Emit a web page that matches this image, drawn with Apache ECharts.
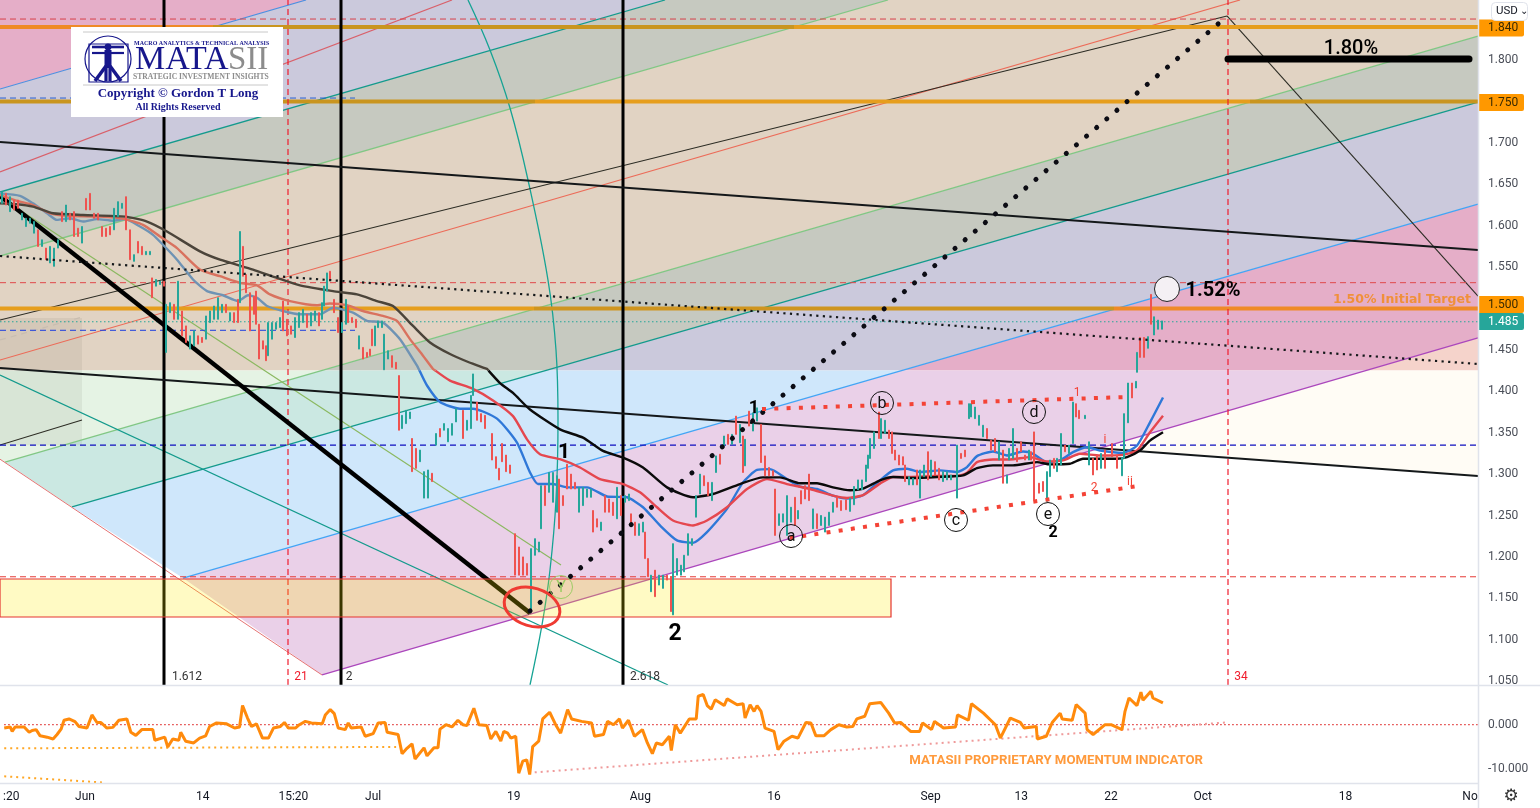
<!DOCTYPE html>
<html><head><meta charset="utf-8">
<style>html,body{margin:0;padding:0;background:#fff}#c{width:1540px;height:808px}</style>
<script src="https://cdn.jsdelivr.net/npm/echarts@6/dist/echarts.min.js"></script>
</head><body><div id="c"></div>
<script>
// axis scales: time slots on x, price on y
const slotMax=1478, priceMin=1.0453, priceMax=1.8726, momMin=-13.1, momMax=8.7, splitPrice=1.425;
const priceTicks=[1.05,1.1,1.15,1.2,1.25,1.3,1.35,1.4,1.45,1.5,1.55,1.6,1.65,1.7,1.75,1.8];
const momTicks=[0,-10];
const timeTickSlots=[7,81,199,290,370,511,638,772,929,1020,1110,1202,1345,1470];
const timeTickLabels=[':20','Jun','14','15:20','Jul','19','Aug','16','Sep','13','22','Oct','18','No'];

// price bars: [slot, low, high, up(1)/down(0)]
const barsJun=[[2,1.627,1.641,1],[6,1.625,1.639,0],[10,1.617,1.635,1],[14,1.619,1.631,0],[18,1.621,1.631,0],[22,1.607,1.615,1],[26,1.599,1.609,1],[30,1.603,1.609,1],[34,1.591,1.605,1],[38,1.575,1.595,0],[42,1.575,1.583,1],[46,1.559,1.573,0],[50,1.555,1.575,1],[54,1.551,1.573,1],[58,1.573,1.583,1],[62,1.605,1.617,0],[66,1.605,1.625,1],[70,1.607,1.615,0],[74,1.587,1.617,0],[78,1.587,1.597,0],[82,1.579,1.599,1],[86,1.619,1.633,0],[90,1.619,1.639,0],[94,1.609,1.615,0],[98,1.607,1.615,0],[102,1.587,1.599,0],[106,1.587,1.597,0],[110,1.589,1.599,0],[114,1.595,1.621,1],[118,1.611,1.629,1],[122,1.621,1.627,1],[126,1.595,1.635,0],[130,1.559,1.595,0],[134,1.557,1.565,1],[138,1.567,1.581,0],[142,1.565,1.575,0],[146,1.565,1.569,1],[150,1.565,1.569,1],[152,1.513,1.537,0],[156,1.527,1.535,1],[160,1.529,1.533,1],[164,1.527,1.533,0],[166,1.447,1.505,1],[170,1.495,1.507,1],[174,1.487,1.505,0],[178,1.487,1.533,1],[182,1.467,1.497,0],[186,1.459,1.479,0],[190,1.451,1.467,1],[194,1.455,1.473,1],[198,1.457,1.467,0],[202,1.459,1.465,0],[206,1.463,1.491,1],[210,1.483,1.497,1],[214,1.487,1.503,1],[218,1.487,1.513,1],[222,1.495,1.505,1],[226,1.495,1.505,0],[230,1.485,1.495,1],[234,1.483,1.495,0],[238,1.483,1.511,0],[240,1.507,1.593,1],[243,1.539,1.575,0],[246,1.519,1.541,0],[250,1.473,1.519,0],[254,1.493,1.515,0],[256,1.481,1.521,0],[259,1.439,1.481,0],[263,1.451,1.461,0],[266,1.437,1.455,0],[268,1.443,1.483,1],[272,1.463,1.483,1],[276,1.475,1.483,1],[280,1.477,1.489,1],[283,1.473,1.509,0],[287,1.467,1.487,0],[291,1.469,1.479,0],[295,1.465,1.489,1],[299,1.477,1.495,1],[303,1.483,1.499,1],[307,1.477,1.493,0],[311,1.479,1.495,1],[315,1.485,1.497,1],[319,1.479,1.495,0],[322,1.487,1.507,1],[324,1.503,1.527,1],[327,1.521,1.543,1],[330,1.535,1.545,0],[334,1.495,1.511,0],[338,1.471,1.489,0],[342,1.471,1.483,1],[346,1.481,1.511,1],[348,1.483,1.503,0],[352,1.483,1.489,0],[356,1.477,1.487,0]];
const barsJul=[[359,1.451,1.467,1],[363,1.439,1.453,0],[367,1.441,1.447,0],[370,1.443,1.451,0],[372,1.455,1.475,0],[375,1.455,1.479,1],[378,1.477,1.485,1],[382,1.477,1.485,1],[384,1.426,1.469,1],[388,1.439,1.449,1],[392,1.429,1.443,0],[396,1.427,1.435,0],[399,1.353,1.419,0],[402,1.355,1.371,1],[406,1.361,1.377,1],[410,1.367,1.375,1],[412,1.303,1.343,0],[416,1.307,1.331,0],[420,1.315,1.329,1],[424,1.271,1.303,1],[428,1.271,1.305,1],[432,1.291,1.301,0],[436,1.335,1.349,1],[440,1.345,1.355,0],[444,1.353,1.361,1],[448,1.339,1.355,1],[452,1.347,1.361,1],[456,1.363,1.379,1],[463,1.343,1.377,0],[467,1.353,1.365,1],[471,1.355,1.395,1],[473,1.395,1.421,1],[477,1.365,1.387,0],[481,1.363,1.373,0],[485,1.355,1.371,0],[492,1.317,1.349,0],[496,1.307,1.321,0],[499,1.293,1.307,0],[502,1.315,1.337,0],[506,1.303,1.323,0],[510,1.301,1.311,0],[515,1.178,1.228,0],[519,1.178,1.212,0],[523,1.178,1.2,0],[527,1.178,1.192,0],[531,1.134,1.21,1],[535,1.202,1.222,1],[539,1.206,1.218,1],[541,1.234,1.286,1],[545,1.262,1.286,0],[549,1.278,1.302,1],[553,1.266,1.302,1],[557,1.254,1.298,1],[559,1.234,1.294,0],[563,1.262,1.274,0],[567,1.282,1.312,0],[571,1.282,1.3,0],[575,1.282,1.29,0],[579,1.254,1.284,1],[583,1.262,1.284,1],[587,1.272,1.282,1],[591,1.272,1.282,1],[593,1.23,1.256,0],[597,1.236,1.246,0],[601,1.232,1.242,1],[605,1.254,1.274,0],[609,1.254,1.27,0],[613,1.25,1.266,0],[617,1.246,1.284,1],[621,1.25,1.274,0],[625,1.266,1.274,1],[629,1.268,1.276,1]];
const barsAug=[[631,1.238,1.252,0],[635,1.226,1.242,0],[639,1.226,1.24,1],[643,1.23,1.242,1],[645,1.198,1.23,0],[648,1.176,1.198,0],[651,1.158,1.178,1],[655,1.152,1.184,0],[659,1.166,1.178,1],[663,1.162,1.178,1],[667,1.172,1.178,0],[671,1.134,1.176,0],[673,1.13,1.216,1],[677,1.178,1.198,1],[681,1.178,1.19,1],[684,1.182,1.202,1],[688,1.202,1.228,1],[692,1.214,1.222,1],[696,1.248,1.274,1],[700,1.276,1.3,1],[704,1.286,1.298,0],[708,1.274,1.29,0],[712,1.268,1.29,1],[716,1.302,1.322,1],[720,1.312,1.324,0],[724,1.334,1.346,1],[728,1.336,1.348,0],[732,1.336,1.348,1],[736,1.348,1.37,0],[740,1.338,1.36,1],[743,1.302,1.346,0],[745,1.31,1.342,1],[749,1.358,1.376,0],[753,1.352,1.374,1],[757,1.364,1.38,1],[761,1.314,1.36,0],[765,1.298,1.322,0],[769,1.298,1.308,0],[773,1.298,1.304,0],[775,1.226,1.282,0],[779,1.238,1.252,1],[783,1.242,1.252,1],[787,1.226,1.274,1],[791,1.242,1.26,1],[795,1.238,1.272,0],[798,1.246,1.256,1],[801,1.264,1.28,0],[805,1.27,1.286,0],[809,1.268,1.3,0],[813,1.234,1.258,1],[817,1.234,1.252,0],[821,1.238,1.25,1],[825,1.23,1.248,1],[829,1.238,1.254,1],[833,1.254,1.266,1],[837,1.26,1.272,0],[841,1.256,1.268,0],[846,1.257,1.269,0],[850,1.255,1.271,1],[854,1.263,1.285,1],[858,1.281,1.293,1],[862,1.281,1.293,1],[866,1.291,1.311,1],[868,1.307,1.323,1],[870,1.319,1.343,1],[874,1.331,1.351,1],[879,1.343,1.375,0],[881,1.343,1.367,1],[885,1.349,1.365,1],[889,1.343,1.353,0],[892,1.325,1.351,0],[895,1.317,1.329,0],[899,1.311,1.323,0],[903,1.311,1.321,0],[905,1.291,1.311,0],[909,1.287,1.297,1],[913,1.287,1.295,1],[917,1.287,1.305,0],[920,1.271,1.305,1],[924,1.297,1.311,1],[928,1.293,1.327,0]];
const barsSep=[[931,1.297,1.317,1],[935,1.299,1.315,0],[939,1.293,1.307,0],[943,1.291,1.303,1],[947,1.293,1.303,1],[951,1.293,1.299,1],[957,1.271,1.335,1],[961,1.319,1.325,0],[965,1.321,1.329,0],[969,1.367,1.385,1],[971,1.369,1.385,1],[975,1.367,1.381,1],[979,1.359,1.371,1],[983,1.345,1.359,1],[987,1.343,1.355,0],[991,1.329,1.341,0],[995,1.327,1.343,0],[999,1.317,1.339,1],[1003,1.289,1.329,0],[1007,1.289,1.299,1],[1009,1.317,1.331,1],[1013,1.319,1.355,1],[1017,1.315,1.331,0],[1021,1.327,1.339,0],[1025,1.317,1.323,0],[1029,1.317,1.329,1],[1031,1.317,1.327,0],[1034,1.269,1.351,0],[1039,1.277,1.289,0],[1043,1.279,1.291,0],[1047,1.267,1.303,1],[1050,1.297,1.317,1],[1054,1.307,1.319,0],[1057,1.303,1.319,1],[1061,1.311,1.349,1],[1065,1.327,1.335,0],[1069,1.325,1.335,1],[1073,1.337,1.387,1],[1076,1.369,1.385,0],[1079,1.367,1.377,0],[1085,1.367,1.371,1],[1089,1.311,1.339,1],[1093,1.299,1.319,0],[1097,1.305,1.323,0],[1101,1.307,1.325,1],[1105,1.307,1.329,0],[1112,1.321,1.337,0],[1117,1.307,1.323,0],[1122,1.298,1.32,1],[1124,1.319,1.373,1],[1128,1.362,1.41,1],[1132,1.392,1.41,0],[1136,1.404,1.412,1],[1137,1.423,1.447,1],[1140,1.441,1.465,0],[1144,1.441,1.465,0],[1148,1.452,1.466,1],[1151,1.481,1.517,0],[1154,1.468,1.49,1],[1158,1.475,1.486,1],[1162,1.475,1.485,1]];

// moving averages: [slot, price]
const maFast=[[0,1.639],[20,1.636],[33,1.627],[47,1.615],[57,1.607],[70,1.609],[83,1.605],[97,1.608],[113,1.606],[125,1.608],[140,1.599],[153,1.589],[163,1.577],[177,1.559],[193,1.535],[207,1.521],[223,1.516],[238,1.509],[248,1.516],[257,1.513],[267,1.503],[283,1.497],[300,1.493],[320,1.493],[333,1.501],[353,1.495],[367,1.485],[383,1.483],[400,1.463],[417,1.431],[427,1.407],[440,1.387],[460,1.379],[473,1.379],[497,1.367],[517,1.338],[530,1.302],[538,1.288],[553,1.288],[567,1.284],[587,1.284],[607,1.273],[627,1.272],[643,1.26],[660,1.238],[677,1.22],[693,1.217],[707,1.23],[727,1.258],[743,1.29],[757,1.305],[770,1.306],[787,1.294],[800,1.285],[817,1.282],[833,1.274],[847,1.2705],[863,1.2745],[880,1.2925],[893,1.3045],[907,1.3065],[920,1.3025],[940,1.3045],[957,1.3025],[967,1.3085],[977,1.3217],[993,1.3273],[1007,1.3225],[1023,1.3273],[1033,1.3245],[1047,1.3145],[1060,1.3165],[1073,1.3265],[1087,1.3325],[1100,1.3285],[1123,1.3257],[1137,1.3345],[1150,1.3625],[1163,1.3925]];
const maMid=[[0,1.637],[17,1.63],[33,1.625],[50,1.615],[67,1.612],[100,1.611],[125,1.608],[143,1.601],[160,1.587],[177,1.573],[200,1.547],[220,1.539],[240,1.531],[257,1.528],[270,1.517],[290,1.509],[317,1.504],[330,1.506],[347,1.504],[363,1.497],[383,1.491],[397,1.485],[410,1.463],[423,1.443],[433,1.427],[450,1.413],[473,1.403],[493,1.389],[513,1.37],[527,1.342],[540,1.324],[560,1.318],[580,1.308],[600,1.294],[623,1.288],[640,1.278],[657,1.26],[673,1.244],[693,1.238],[707,1.244],[727,1.26],[747,1.282],[767,1.294],[787,1.288],[810,1.282],[833,1.274],[847,1.2713],[863,1.2745],[880,1.2885],[893,1.2965],[910,1.2965],[937,1.2977],[957,1.2977],[967,1.3017],[977,1.3145],[993,1.3177],[1010,1.3177],[1030,1.3205],[1047,1.3153],[1063,1.3165],[1080,1.3245],[1100,1.3225],[1123,1.3233],[1137,1.3285],[1150,1.3505],[1163,1.3705]];
const maSlow=[[0,1.627],[17,1.626],[33,1.623],[53,1.615],[83,1.613],[125,1.611],[147,1.605],[167,1.593],[200,1.569],[220,1.559],[253,1.547],[277,1.537],[300,1.528],[333,1.521],[357,1.517],[377,1.509],[393,1.503],[413,1.479],[430,1.459],[450,1.445],[467,1.436],[487,1.427],[500,1.41],[513,1.398],[530,1.378],[560,1.354],[583,1.344],[603,1.328],[623,1.32],[643,1.308],[667,1.284],[693,1.272],[713,1.276],[740,1.288],[763,1.296],[780,1.296],[800,1.289],[817,1.289],[833,1.284],[850,1.2805],[863,1.2825],[880,1.2925],[893,1.2965],[913,1.2953],[937,1.2965],[963,1.2985],[977,1.3073],[993,1.3105],[1013,1.3105],[1037,1.3145],[1050,1.3117],[1070,1.3125],[1083,1.3185],[1117,1.3185],[1127,1.3205],[1140,1.3285],[1150,1.3405],[1163,1.3505]];

// momentum indicator: [slot, value]
const momentum=[[0,-0.75],[6,-0.5],[8,-1.5],[11,-0.5],[20,-0.5],[25,-1.7],[28,-1.3],[32,-1.1],[36,-2.5],[43,-2.8],[49,-3.2],[53,-2.2],[57,-1],[60,1],[65,1.3],[71,0.7],[75,-0.4],[83,-0.75],[88,2.2],[93,0.5],[97,0.5],[103,-0.75],[109,-0.6],[115,1],[123,1.3],[127,-1.7],[132,-2.4],[138,-1.1],[149,-1.1],[151,-3.5],[161,-2.8],[164,-5],[169,-3.2],[175,-3.5],[177,-1.7],[182,-3.7],[190,-4.1],[196,-3],[202,-2.5],[206,-0.4],[213,0.4],[223,0.2],[231,-0.75],[236,-0.5],[239,4.3],[244,1.5],[248,-0.4],[253,0.2],[259,-3],[265,-3],[270,-0.75],[277,-0.4],[281,0.5],[285,-0.75],[292,-0.75],[296,0],[302,0.75],[308,0.4],[319,0.2],[322,2.2],[327,3.4],[331,2.5],[335,-0.75],[342,-1.1],[345,0.4],[348,-0.75],[358,-0.5],[362,-2.6],[370,-2],[375,0.4],[382,0.5],[384,-1.7],[395,-2.2],[399,-6.5],[403,-5.5],[409,-4.3],[412,-7.7],[421,-5.2],[424,-7],[431,-5.2],[435,-5.2],[437,-1],[443,0],[449,-0.5],[455,1],[460,0],[464,-0.2],[471,3.7],[476,0],[484,-0.2],[488,-3.2],[493,-1.5],[498,-3.7],[501,-1.5],[505,-1.9],[508,-3],[513,-2.6],[516,-10.9],[520,-8.2],[524,-7.9],[527,-11.2],[530,-4.9],[536,-3.7],[540,1.3],[547,2.8],[553,0],[558,-1.9],[565,3.4],[569,1.3],[579,0.75],[589,0.4],[592,-2.6],[601,-2.2],[605,0.75],[611,0],[617,1.3],[620,-0.75],[626,1],[632,-2.6],[640,-1.1],[645,-4.1],[650,-6.5],[654,-4.1],[660,-4.5],[667,-2.6],[669,-5.8],[673,0],[678,-1.9],[687,1.3],[694,1.3],[696,6.4],[701,6.8],[705,4.3],[709,3.5],[713,5.6],[722,4.3],[725,5.8],[735,4.5],[741,4.7],[743,1.5],[748,4.5],[752,3],[755,4.3],[759,3],[763,-0.75],[772,-1.5],[776,-5.6],[782,-3.7],[790,-2.6],[796,-3],[804,0.5],[809,0.4],[814,-2.5],[822,-2.5],[829,-1.1],[837,0],[845,-0.5],[851,-0.4],[855,1.3],[863,1.9],[868,4.7],[879,5],[887,2.6],[893,0.4],[899,0.5],[909,-1.5],[918,-1.5],[921,0.4],[930,-1.1],[933,0.75],[942,-0.75],[954,-0.5],[956,2.2],[967,1],[970,4.7],[982,2.6],[994,0],[999,-3],[1009,1.5],[1019,0.5],[1023,-0.75],[1035,-0.4],[1036,-3.2],[1045,-2.6],[1051,0.5],[1059,2.6],[1061,1.3],[1071,1],[1075,4.5],[1084,2.6],[1086,-1.1],[1092,-2.2],[1104,0],[1110,0],[1121,-1.1],[1124,3],[1128,6],[1136,4.3],[1140,7.3],[1142,5.5],[1150,7.5],[1152,6],[1162,4.9]];

// fan bands: corners [slot,price], colour above / below the split price
const fanBands=[
 [[[322,1.0574],[183,1.1745],[1478,1.6262],[1478,1.4644]],'#e5aec8','#ead0e8'],
 [[[183,1.1745],[72,1.2603],[1478,1.7494],[1478,1.6262]],'#cbc9dc','#cfe7fb'],
 [[[72,1.2603],[5,1.3146],[1478,1.8291],[1478,1.7494]],'#c6c9c0','#cbe8e2'],
 [[[5,1.3146],[0,1.318],[0,1.5634],[888,1.8726],[1478,1.8726],[1478,1.8291]],'#e1d3c3','#e5f3e4'],
 [[[0,1.5634],[888,1.8726],[665,1.8726],[0,1.6407]],'#c6c9c0','#cbe8e2'],
 [[[0,1.6407],[665,1.8726],[306,1.8726],[0,1.7651]],'#cbc9dc','#cfe7fb'],
 [[[0,1.7651],[306,1.8726],[0,1.8726]],'#e5aec8','#ead0e8'],
 [[[1100,1.3311],[1478,1.4644],[1478,1.2977]],'#f5d3cb','#fffcf5']
];
const shadedBoxes=[
 [[[0,1.4885],[82,1.4885],[82,1.335],[0,1.335]],'rgba(60,50,40,0.07)','none',20],
 [[[0,1.1733],[891,1.1733],[891,1.1274],[0,1.1274]],'rgba(255,235,0,0.23)','#e53530',34]
];

// drawn lines: [x1,y1,x2,y2,colour,width,dash,z,cap]
const fanLines=[
 [322,1.0574,1478,1.4644,'#ab47bc',1.3,'solid',22],[183,1.1745,1478,1.6262,'#42a5f5',1.3,'solid',22],
 [72,1.2603,1478,1.7494,'#139a8c',1.3,'solid',22],[5,1.3146,1478,1.8291,'#81c784',1.3,'solid',22],
 [0,1.4378,1240,1.8726,'#ec6b58',1.2,'solid',22],[0,1.5634,888,1.8726,'#81c784',1.3,'solid',22],
 [0,1.6407,665,1.8726,'#139a8c',1.3,'solid',22],[0,1.7651,306,1.8726,'#4a8fe0',1.2,'solid',22],
 [0,1.6649,452,1.8726,'#d9606a',1.2,'solid',22],[0,1.318,322,1.0574,'#e57373',1,'solid',22],
 [0,1.4197,668,1.0453,'#139a8c',1.3,'solid',22],[0,1.6347,561,1.1902,'#8bb860',1.1,'solid',22]
];
const trendLines=[
 [0,1.4861,1227,1.8533,'#2c2c24',1.1,'solid',24],[1227,1.8533,1478,1.5151,'#2c2c24',1.1,'solid',24],
 [0,1.3351,82,1.3653,'#2c2c24',1.1,'solid',24],[0,1.462,82,1.4897,'#c8bdb0',1.2,[6,5],24],
 [0,1.7011,1478,1.5707,'#14181a',2,'solid',28],[0,1.4281,1478,1.2977,'#14181a',2,'solid',28],
 [0,1.5634,1478,1.433,'#14181a',2.2,[2.2,4.4],40],[0,1.6359,530,1.1322,'#000',4.5,'solid',30],
 [530,1.1347,1225,1.8508,'#0c0c14',5,[0.1,13.2],44,'round'],[1228,1.8012,1469,1.8012,'#000',7,'solid',44,'round'],
 [762,1.3786,1127,1.3931,'#f44336',4,[4,8.3],46],[790,1.2228,1138,1.2856,'#f44336',4,[4,8.3],46]
];
const levelLines=[
 [1.8496,'#d8404a',1,[6,4]],[1.7542,'#2a5fd0',1,[6,4],355],[1.5312,'#e0484a',1,[6,4]],[1.4737,'#1a3ce0',1,[6,4],355],
 [1.484,'#26a69a',1,[1.5,2.5]],[1.335,'#0f0fc0',1.2,[6,4]],[1.176,'#e53935',1,[6,4]]
];
// orange targets, tinted by the band behind them: [price, from slot, to slot, colour]
const targetSegments=[
 [1.84,0,213,'#ef8a27'],[1.84,213,794,'#c9951f'],[1.84,794,1478,'#e69e1d'],
 [1.75,0,535,'#c9951f'],[1.75,535,1250,'#e69e1d'],[1.75,1250,1478,'#c9951f'],
 [1.5,0,534,'#e69e1d'],[1.5,534,1114,'#cf951f'],[1.5,1114,1478,'#ef8a27']
];
const cycleLines=[[164,'#000',3,'solid'],[341,'#000',3,'solid'],[623,'#000',3,'solid'],[288,'#f01c2c',1.2,[6,4]],[1228,'#f01c2c',1.2,[6,4]]];
const arcPoints=[[468,1.8726],[490,1.8122],[510,1.7422],[528,1.6552],[548,1.5344],[556,1.4499],[558,1.3653],[556,1.2687],[550,1.1842],[542,1.1178],[530,1.0453]];
const momentumLines=[[0,-5.3,393,-5,'#ffa726',[2,4]],[0,-11.6,99,-13,'#ffa726',[2,4]],[532,-10.7,1225,0.5,'#ef9a9a',[2,4]]];

// annotations: [slot, price, text, size, colour, weight, family]
const annotations=[
 [564,1.328,'1',21,'#000','bold'],[754,1.3822,'1',18,'#000','bold'],[675,1.1093,'2',23,'#000','bold'],[1053,1.2313,'2',16,'#000','bold'],
 [1213,1.5235,'1.52%',20,'#000','bold'],[1351,1.816,'1.80%',20,'#000','500'],
 [1402,1.5127,'1.50% Initial Target',12.5,'#f0903a','bold','DejaVu Sans'],
 [1077,1.4004,'1',12,'#f44336','normal'],[1105,1.3436,'i',12,'#f44336','normal'],[1094,1.2856,'2',12,'#f44336','normal'],[1130,1.2929,'ii',12,'#f44336','normal'],
 [187,1.0574,'1.612',12,'#333','normal'],[301,1.0574,'21',12,'#f01c2c','normal'],[349,1.0574,'2',12,'#333','normal'],[645,1.0574,'2.618',12,'#333','normal'],[1241,1.0574,'34',12,'#f01c2c','normal']
];
const circleMarks=[[791,1.2252,'a','#111'],[882,1.3859,'b','#111'],[956,1.2446,'c','#111'],[1034,1.375,'d','#111'],[1048,1.2518,'e','#111'],[561,1.1636,'Y','#9ccc65']];
const haloMark=[1167,1.5236];
const lowEllipse=[532,1.1395];
// badges: [price, text, background, text colour, nudge off the price in px so they do not overlap]
const priceBadges=[[1.84,'1.840','#ff9800','#3a2a00',1],[1.75,'1.750','#ff9800','#3a2a00',1],[1.5,'1.500','#ff9800','#3a2a00',-4],[1.485,'1.485','#26a69a','#fff',0.5]];
const momentumNote=[1055,-8.0,'MATASII PROPRIETARY MOMENTUM INDICATOR'];

const font='Roboto, "Open Sans", sans-serif';
function splitPoly(pts,above){
  const out=[];
  for(let i=0;i<pts.length;i++){
    const a=pts[i],b=pts[(i+1)%pts.length];
    const ia=above?a[1]>=splitPrice:a[1]<=splitPrice, ib=above?b[1]>=splitPrice:b[1]<=splitPrice;
    if(ia)out.push(a);
    if(ia!==ib){const t=(splitPrice-a[1])/(b[1]-a[1]);out.push([a[0]+t*(b[0]-a[0]),splitPrice]);}
  }
  return out;
}
// moving average pieces above / below the split price (the line crosses it once)
function splitLine(m){
  const i=m.findIndex(p=>p[1]<splitPrice),a=m[i-1],b=m[i],t=(splitPrice-a[1])/(b[1]-a[1]),c=[a[0]+t*(b[0]-a[0]),splitPrice];
  return [m.slice(0,i).concat([c]),[c].concat(m.slice(i))];
}
const series=[];
series.push({type:'custom',z:10,clip:true,silent:true,data:fanBands.map(b=>b[0][0]),encode:{x:0,y:1},
 renderItem(p,api){const b=fanBands[p.dataIndex],ch=[];
  [[true,b[1]],[false,b[2]]].forEach(([up,col])=>{const q=splitPoly(b[0],up);
   if(q.length>2)ch.push({type:'polygon',shape:{points:q.map(c=>api.coord(c))},style:{fill:col}});});
  return {type:'group',children:ch};}});
shadedBoxes.forEach(b=>series.push({type:'custom',z:b[3],clip:true,silent:true,data:[b[0][0]],encode:{x:0,y:1},
 renderItem(p,api){return {type:'polygon',shape:{points:b[0].map(c=>api.coord(c))},style:{fill:b[1],stroke:b[2]==='none'?null:b[2],lineWidth:1.2}};}}));
function seg(x1,y1,x2,y2,c,w,d,z,cap,ax){return {type:'line',z:z,silent:true,showSymbol:false,symbol:'none',clip:true,xAxisIndex:ax||0,yAxisIndex:ax||0,
 data:[[x1,y1],[x2,y2]],lineStyle:{color:c,width:w,type:d,cap:cap||'butt'}};}
fanLines.concat(trendLines).forEach(l=>series.push(seg(...l)));
levelLines.forEach(l=>series.push(seg(0,l[0],l[4]||slotMax,l[0],l[1],l[2],l[3],26)));
cycleLines.forEach(l=>series.push(seg(l[0],priceMin,l[0],priceMax,l[1],l[2],l[3],27)));
targetSegments.forEach(t=>series.push(seg(t[1],t[0],t[2],t[0],t[3],4,'solid',25)));
series.push({type:'line',z:23,silent:true,smooth:0.4,symbol:'none',data:arcPoints,lineStyle:{color:'#16a394',width:1.3}});
// moving averages
[[maFast,'#6f93b4','#2f78d8'],[maMid,'#d9725f','#e5474f'],[maSlow,'#4b443a','#0b0b0b']].forEach(m=>{
 const parts=splitLine(m[0]);
 series.push({type:'line',z:36,silent:true,symbol:'none',smooth:0.2,data:parts[0],lineStyle:{width:2.4,color:m[1]}});
 series.push({type:'line',z:36,silent:true,symbol:'none',smooth:0.2,data:parts[1],lineStyle:{width:2.4,color:m[2]}});
});
// price bars
const allBars=barsJun.concat(barsJul,barsAug,barsSep);
series.push({type:'candlestick',z:38,silent:true,barWidth:1.6,encode:{x:0,y:[1,2,3,4]},
 data:allBars.map(b=>b[3]?[b[0],b[1],b[2],b[1],b[2]]:[b[0],b[2],b[1],b[1],b[2]]),
 itemStyle:{color:'#26a69a',color0:'#ef5350',borderColor:'#26a69a',borderColor0:'#ef5350',borderWidth:1}});
// annotations (text is centred 2px under its anchor)
series.push({type:'custom',z:50,clip:true,silent:true,data:annotations.map(a=>[a[0],a[1]]),encode:{x:0,y:1},
 renderItem(p,api){const a=annotations[p.dataIndex],c=api.coord([a[0],a[1]]);
  return {type:'text',x:c[0],y:c[1]+2,style:{text:a[2],fill:a[4],align:'center',verticalAlign:'middle',font:a[5]+' '+a[3]+'px '+(a[6]?'"'+a[6]+'"':font)}};}});
series.push({type:'custom',z:50,clip:true,silent:true,data:circleMarks.map(a=>[a[0],a[1]]),encode:{x:0,y:1},
 renderItem(p,api){const a=circleMarks[p.dataIndex],c=api.coord([a[0],a[1]]);
  return {type:'group',children:[{type:'circle',shape:{cx:c[0],cy:c[1],r:11.5},style:{fill:'none',stroke:a[3],lineWidth:1}},
   {type:'text',x:c[0],y:c[1]+1,style:{text:a[2],fill:a[3],align:'center',verticalAlign:'middle',font:'16px '+font}}]};}});
series.push({type:'custom',z:50,clip:true,silent:true,data:[haloMark],encode:{x:0,y:1},
 renderItem(p,api){const c=api.coord(haloMark);return {type:'circle',shape:{cx:c[0],cy:c[1],r:12.5},style:{fill:'#f4f0f4',stroke:'#222',lineWidth:1}};}});
series.push({type:'custom',z:50,clip:true,silent:true,data:[lowEllipse],encode:{x:0,y:1},
 renderItem(p,api){const c=api.coord(lowEllipse);return {type:'ellipse',x:c[0],y:c[1],rotation:-0.3,shape:{cx:0,cy:0,rx:28.5,ry:19},style:{fill:'none',stroke:'#ef3b32',lineWidth:3}};}});
// price badges
series.push({type:'custom',z:60,clip:false,silent:true,data:priceBadges.map(b=>[slotMax,b[0]]),encode:{x:0,y:1},
 renderItem(p,api){const b=priceBadges[p.dataIndex],c=api.coord([slotMax,b[0]]),y=c[1]+b[4];
  return {type:'group',children:[{type:'rect',shape:{x:c[0],y:y-8.5,width:46,height:17,r:[0,2,2,0]},style:{fill:b[2]}},
   {type:'text',x:c[0]+10,y:y+0.5,style:{text:b[1],fill:b[3],align:'left',verticalAlign:'middle',font:'12px '+font}}]};}});
// momentum pane
series.push(seg(0,0,slotMax,0,'#d80000',1,[1.5,2.5],20,'butt',1));
momentumLines.forEach(l=>series.push(seg(l[0],l[1],l[2],l[3],l[4],2,l[5],21,'butt',1)));
series.push({type:'line',z:30,silent:true,symbol:'none',xAxisIndex:1,yAxisIndex:1,data:momentum,lineStyle:{color:'#ff8a0c',width:3}});
series.push({type:'custom',z:50,silent:true,xAxisIndex:1,yAxisIndex:1,data:[[momentumNote[0],momentumNote[1]]],encode:{x:0,y:1},
 renderItem(p,api){const c=api.coord([momentumNote[0],momentumNote[1]]);
  return {type:'text',x:c[0],y:c[1],style:{text:momentumNote[2],fill:'#ff9a3c',align:'center',verticalAlign:'middle',font:'bold 13.2px '+font}};}});

const navy='#17178c';
const T=(x,y,t,f,c,a)=>({type:'text',z:101,x:x,y:y,style:{text:t,font:f,fill:c,align:a||'left',verticalAlign:'middle'}});
const L=(a,b,c,d,w,col)=>({type:'line',z:101,shape:{x1:a,y1:b,x2:c,y2:d},style:{stroke:col||navy,lineWidth:w}});
const S='"Liberation Serif", serif';
const graphic=[
 {type:'rect',z:100,shape:{x:71,y:27,width:212,height:90},style:{fill:'#fff'}},
 L(83,32,268,32,1,'#c8c8c8'),L(83,85,268,85,1,'#c8c8c8'),
 {type:'circle',z:101,shape:{cx:108,cy:59,r:23},style:{fill:'none',stroke:navy,lineWidth:1.2}},
 {type:'rect',z:101,shape:{x:89,y:44,width:39,height:38},style:{fill:'none',stroke:navy,lineWidth:1.2}},
 {type:'circle',z:101,shape:{cx:108,cy:47,r:3.4},style:{fill:navy}},
 L(108,50,108,68,7),L(92,47,124,47,2.6),L(92,53,124,53,2.2),L(106,66,95,81,3.5),L(110,66,121,81,3.5),L(106,66,106,81,3.2),L(110,66,110,81,3.2),
 T(134,43.5,'MACRO ANALYTICS & TECHNICAL ANALYSIS','bold 6px '+S,navy),
 T(135,60,'MATA','34px '+S,navy),T(228,60,'SII','33px '+S,'#8c8c8c'),
 T(133,77,'STRATEGIC INVESTMENT INSIGHTS','bold 7.6px '+S,'#8c8c8c'),
 T(178,93.5,'Copyright © Gordon T Long','bold 13px '+S,navy,'center'),
 T(178,107,'All Rights Reserved','bold 10px '+S,navy,'center'),
 L(0,685.5,1540,685.5,1.5,'#e0e3eb'),L(0,783.5,1478,783.5,1.5,'#e0e3eb'),L(1478.5,0,1478.5,808,1.5,'#e0e3eb'),
 {type:'rect',z:101,shape:{x:1491.5,y:2.5,width:36,height:18,r:4},style:{fill:'#fff',stroke:'#e0e3eb',lineWidth:1}},
 T(1496,11.5,'USD','11.5px '+font,'#131722'),
 T(1520,11.5,'⌄','10px "DejaVu Sans"','#131722'),
 T(1511,797,'⚙','17px "DejaVu Sans"','#333','center')
];
const chart=echarts.init(document.getElementById('c'),null,{renderer:'canvas'});
chart.setOption({
 animation:false,backgroundColor:'#fff',graphic:graphic,
 grid:[{left:0,right:62,top:0,height:685},{left:0,right:62,top:686,height:97}],
 xAxis:[
  {type:'value',gridIndex:0,min:0,max:slotMax,show:false,splitLine:{show:false}},
  {type:'value',gridIndex:1,min:0,max:slotMax,splitLine:{show:false},axisLine:{show:false},axisTick:{show:false},
   axisLabel:{customValues:timeTickSlots,margin:8,color:'#131722',fontSize:12,fontFamily:'Roboto',hideOverlap:false,showMinLabel:true,showMaxLabel:true,
    formatter:v=>timeTickLabels[timeTickSlots.indexOf(v)]||''}}
 ],
 yAxis:[
  {type:'value',gridIndex:0,position:'right',min:priceMin,max:priceMax,splitLine:{show:false},axisLine:{show:false},axisTick:{show:false},
   axisLabel:{customValues:priceTicks,margin:10,padding:[2,0,0,0],color:'#4a4e58',fontSize:12,fontFamily:'Roboto',formatter:v=>v.toFixed(3)}},
  {type:'value',gridIndex:1,position:'right',min:momMin,max:momMax,splitLine:{show:false},axisLine:{show:false},axisTick:{show:false},
   axisLabel:{customValues:momTicks,margin:10,padding:[2,0,0,0],color:'#4a4e58',fontSize:12,fontFamily:'Roboto',formatter:v=>v.toFixed(3)}}
 ],
 series:series
});
</script></body></html>
